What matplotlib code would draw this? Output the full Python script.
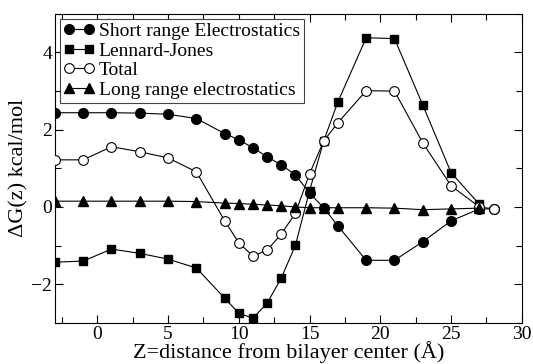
import matplotlib
matplotlib.use("Agg")
import matplotlib.pyplot as plt
from matplotlib.ticker import MultipleLocator

plt.rcParams["font.family"] = ["Liberation Serif", "DejaVu Serif"]
plt.rcParams["mathtext.fontset"] = "stix"

# distance from bilayer centre (Angstrom)
z = [-3, -1, 1, 3, 5, 7, 9, 10, 11, 12, 13, 14, 15, 16, 17, 19, 21, 23, 25, 27, 28]
z_lj = z[:-1]

short_range = [2.44, 2.44, 2.44, 2.43, 2.40, 2.29, 1.90, 1.74, 1.53, 1.30,
               1.09, 0.83, 0.36, -0.02, -0.49, -1.38, -1.38, -0.90, -0.36,
               -0.05, -0.05]
lennard_jones = [-1.43, -1.40, -1.09, -1.20, -1.35, -1.58, -2.36, -2.75, -2.88,
                 -2.49, -1.84, -0.99, 0.42, 1.71, 2.72, 4.38, 4.36, 2.64, 0.89,
                 0.07]
total = [1.22, 1.22, 1.56, 1.43, 1.27, 0.91, -0.36, -0.93, -1.27, -1.12,
         -0.70, -0.16, 0.86, 1.71, 2.18, 3.01, 3.00, 1.66, 0.55, 0.0, -0.05]
long_range = [0.15, 0.15, 0.15, 0.15, 0.15, 0.14, 0.10, 0.09, 0.07, 0.05,
              0.03, 0.0, -0.02, -0.02, -0.02, -0.02, -0.03, -0.07, -0.05,
              -0.03]

fig = plt.figure(figsize=(5.33, 3.64), dpi=100)
ax = fig.add_axes([0.103, 0.113, 0.876, 0.849])

lw = 0.8
ax.plot(z, short_range, "-o", color="black", lw=lw, ms=7, label="Short range Electrostatics", zorder=2)
ax.plot(z_lj, lennard_jones, "-s", color="black", lw=lw, ms=6, label="Lennard-Jones", zorder=3)
ax.plot(z, total, "-o", color="black", lw=lw, ms=7, mfc="white", mew=0.8, label="Total", zorder=4)
ax.plot(z[:len(long_range)], long_range, "-^", color="black", lw=lw, ms=7,
        label="Long range electrostatics", zorder=5)

ax.set_xlim(-3, 30)
ax.set_ylim(-3, 5)
ax.xaxis.set_major_locator(MultipleLocator(5))
ax.xaxis.set_minor_locator(MultipleLocator(2.5))
ax.yaxis.set_major_locator(MultipleLocator(2))
ax.yaxis.set_minor_locator(MultipleLocator(1))
ax.tick_params(which="both", direction="in", top=True, right=True, labelsize=14, width=0.8, pad=2)
ax.tick_params(which="major", length=6)
ax.tick_params(which="minor", length=4)
for s in ax.spines.values():
    s.set_linewidth(0.8)

ax.set_xlabel("Z=distance from bilayer center (Å)", fontsize=16, labelpad=-1)
ax.set_ylabel("ΔG(z) kcal/mol", fontsize=16, labelpad=2)

leg = ax.legend(loc="upper left", fontsize=14, numpoints=2, handlelength=1.6,
                handletextpad=0.2, labelspacing=0.1, borderpad=0.2,
                borderaxespad=0.25, fancybox=False, framealpha=1)
leg.get_frame().set_edgecolor("#444444")
leg.get_frame().set_linewidth(0.8)

fig.savefig("out.png", dpi=100)
